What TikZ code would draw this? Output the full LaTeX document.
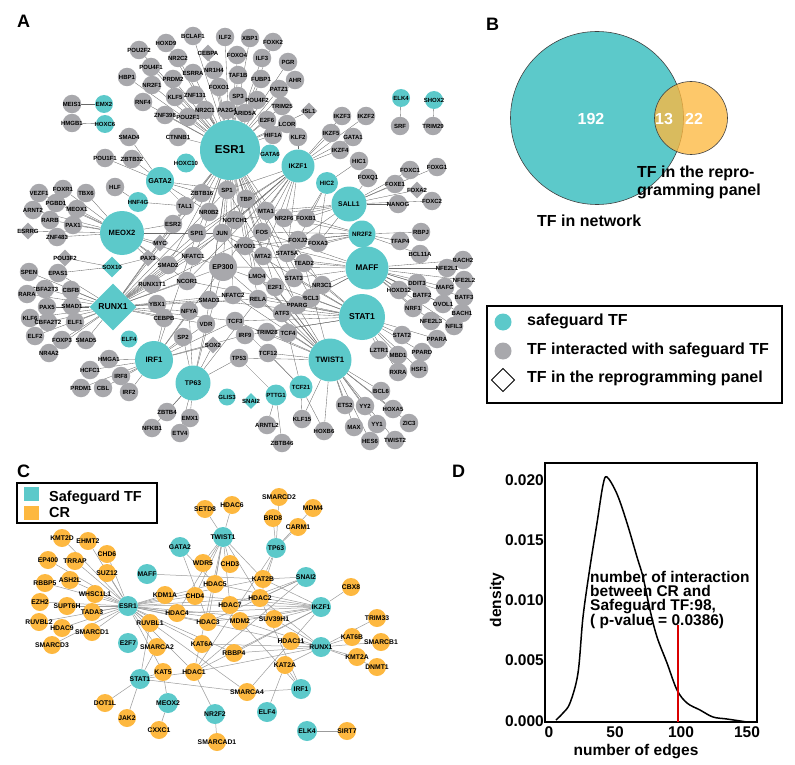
\documentclass[tikz,border=0pt]{standalone}
\usepackage{fontspec}
\setmainfont{Liberation Sans}
\usetikzlibrary{shapes.geometric}
\definecolor{tealc}{RGB}{92,201,202}
\definecolor{grayc}{RGB}{168,168,172}
\definecolor{orangec}{RGB}{253,184,64}
\definecolor{edgec}{RGB}{105,105,105}
\definecolor{cedgec}{RGB}{155,155,155}
\newcommand\fs[1]{\fontsize{#1}{#1}\selectfont\bfseries}
\pgfdeclarelayer{bg}\pgfsetlayers{bg,main}
\tikzset{
 gn/.style={circle,fill=grayc,minimum size=18.5pt,inner sep=0pt,font=\fs{6}},
 gd/.style={diamond,fill=grayc,minimum size=17pt,inner sep=0pt,font=\fs{6}},
 tn/.style={circle,fill=tealc,minimum size=18pt,inner sep=0pt,font=\fs{6}},
 td/.style={diamond,fill=tealc,minimum size=18pt,inner sep=0pt,font=\fs{6}},
 ed/.style={draw=edgec,line width=0.35pt},
 ce/.style={draw=cedgec,line width=0.5pt},
 cr/.style={circle,fill=orangec,minimum size=18pt,inner sep=0pt,font=\fs{6.8}},
 ct/.style={circle,fill=tealc,minimum size=20pt,inner sep=0pt,font=\fs{6.8}},
 lab/.style={inner sep=0pt,anchor=base west},
}
\newcommand\gnode[2]{\node[gn] (#1) at (#2) {\makebox[0pt]{#1}};}
\newcommand\gdia[2]{\node[gd] (#1) at (#2) {\makebox[0pt]{#1}};}
\newcommand\tnode[3][]{\node[tn,#1] (#2) at (#3) {\makebox[0pt]{#2}};}
\newcommand\crnode[2]{\node[cr] (c#1) at (#2) {\makebox[0pt]{#1}};}
\newcommand\ctnode[2]{\node[ct] (c#1) at (#2) {\makebox[0pt]{#1}};}
\begin{document}
\begin{tikzpicture}[x=1pt,y=-1pt]
\useasboundingbox (0,0) rectangle (795,765);
% ---------------- panel letters
\node[lab,font=\fs{18}] at (17,28) {A};
\node[lab,font=\fs{18}] at (486,31) {B};
\node[lab,font=\fs{18}] at (17,477) {C};
\node[lab,font=\fs{18}] at (452,477) {D};
% ================= PANEL A =================
\tnode[minimum size=60pt,font=\fs{11.5}]{ESR1}{230,150}
\tnode[minimum size=28pt,font=\fs{7.2}]{GATA2}{160,181}
\tnode[minimum size=44pt,font=\fs{7.6}]{MEOX2}{122,233}
\node[td,minimum size=47pt,font=\fs{8.6}] (RUNX1) at (113,307) {\makebox[0pt]{RUNX1}};
\tnode[minimum size=38pt,font=\fs{7.8}]{IRF1}{154,360}
\tnode[minimum size=35pt,font=\fs{6.8}]{TP63}{193,383}
\tnode[minimum size=43pt,font=\fs{7.8}]{TWIST1}{330,360}
\tnode[minimum size=46pt,font=\fs{8.6}]{STAT1}{362,317}
\tnode[minimum size=43pt,font=\fs{8.2}]{MAFF}{367,268}
\tnode[minimum size=27pt,font=\fs{6.3}]{NR2F2}{362,234}
\tnode[minimum size=35pt,font=\fs{6.8}]{SALL1}{349,204}
\tnode[minimum size=22pt,font=\fs{6.2}]{HIC2}{327,183}
\tnode[minimum size=33pt,font=\fs{6.7}]{IKZF1}{298,166}
\tnode[minimum size=19pt]{GATA6}{270,154}
\tnode[minimum size=20pt]{HNF4G}{138,202}
\tnode[minimum size=19pt]{HOXC10}{186,163}
\tnode[minimum size=23pt]{TCF21}{301,387}
\tnode[minimum size=21pt]{PTTG1}{276,395}
\tnode[minimum size=17pt]{GLIS3}{227,397}
\tnode[minimum size=17pt]{ELF4}{129,339}
\tnode{EMX2}{104,104}
\tnode{HOXC6}{105,124}
\tnode{ELK4}{401,98}
\tnode{SHOX2}{434,100}
\node[td,minimum size=16pt] (SNAI2) at (251,401) {\makebox[0pt]{SNAI2}};
\node[td,minimum size=21pt] (SOX10) at (112,267) {\makebox[0pt]{SOX10}};
\node[gn,minimum size=28pt,font=\fs{7}] (EP300) at (223,267) {\makebox[0pt]{EP300}};
\gnode{BCLAF1}{193,36}\gnode{ILF2}{225,37}\gnode{XBP1}{250,38}\gnode{FOXK2}{273,42}
\gnode{HOXD9}{166,43}\gnode{POU2F2}{139,50}\gdia{CEBPA}{208,53}\gnode{FOXO4}{237,55}
\gnode{NR2C2}{178,58}\gnode{ILF3}{262,58}\gnode{PGR}{288,62}\gnode{POU4F1}{151,67}
\gnode{NR1H4}{214,70}\gnode{ESRRA}{193,73}\gnode{TAF1B}{238,75}\gnode{HBP1}{127,77}
\gnode{PRDM2}{173,79}\gnode{FUBP1}{261,79}\gnode{AHR}{295,80}\gnode{NR2F1}{152,85}
\gnode{FOXO1}{219,87}\gnode{PATZ1}{279,89}\gnode{ZNF131}{195,95}\gnode{SP3}{238,96}
\gnode{KLF5}{175,97}\gnode{POU4F2}{257,100}\gnode{RNF4}{143,102}\gnode{TRIM25}{282,106}
\gnode{NR2C1}{205,110}\gnode{PA2G4}{227,110}\gdia{ISL1}{309,111}\gnode{ARID5A}{245,113}
\gnode{ZNF398}{165,115}\gnode{POU2F1}{188,117}\gnode{E2F6}{267,120}\gnode{LCOR}{287,124}
\gnode{HIF1A}{273,135}\gnode{KLF2}{298,137}\gnode{SMAD4}{129,137}\gnode{CTNNB1}{178,137}
\gnode{IKZF3}{342,116}\gnode{IKZF2}{366,116}\gnode{IKZF5}{331,133}\gnode{GATA1}{353,137}
\gnode{IKZF4}{340,150}\gnode{HIC1}{359,161}
\gnode{MEIS1}{72,104}\gnode{HMGB1}{72,123}\gnode{SRF}{400,126}\gnode{TRIM29}{433,126}
\gnode{FOXC1}{410,170}\gnode{FOXG1}{437,167}\gnode{FOXQ1}{368,178}\gnode{FOXE1}{395,184}
\gdia{FOXA2}{417,190}\gnode{NANOG}{398,204}\gnode{FOXC2}{432,201}
\gnode{RBPJ}{421,232}\gnode{TFAP4}{400,241}\gnode{BCL11A}{420,254}
\gnode{BACH2}{463,260}\gnode{NFE2L1}{447,268}\gnode{NFE2L2}{464,280}\gnode{DDIT3}{417,283}
\gnode{MAFG}{445,287}\gnode{HOXD12}{399,290}\gnode{BATF2}{422,295}\gnode{BATF3}{464,297}
\gnode{OVOL1}{443,304}\gnode{NRF1}{413,308}\gnode{BACH1}{462,313}\gnode{NFE2L3}{431,321}
\gnode{NFIL3}{454,326}
\gnode{STAT2}{402,335}\gnode{PPARA}{437,339}\gnode{LZTR1}{379,350}\gnode{PPARD}{422,352}
\gnode{MBD1}{398,355}\gnode{RXRA}{398,372}\gnode{HSF1}{419,369}
\gnode{BCL6}{381,391}\gnode{ETS2}{345,405}\gnode{YY2}{365,406}\gnode{HOXA5}{393,409}
\gnode{MAX}{354,427}\gnode{YY1}{377,424}\gnode{ZIC3}{409,423}\gnode{HES6}{370,441}
\gnode{TWIST2}{395,440}
\gnode{KLF15}{302,419}\gnode{ARNTL2}{267,425}\gnode{HOXB6}{324,431}\gnode{ZBTB46}{282,443}
\gnode{ZBTB4}{167,412}\gnode{EMX1}{190,418}\gnode{NFKB1}{152,428}\gnode{ETV4}{180,433}
\gnode{HMGA1}{109,359}\gnode{HCFC1}{90,370}\gnode{IRF8}{121,376}\gnode{PRDM1}{81,388}
\gnode{CBL}{103,388}\gnode{IRF2}{129,392}
\gnode{SPEN}{29,272}\gnode{EPAS1}{58,273}\gnode{CBFA2T3}{45,289}\gnode{CBFB}{71,290}
\gnode{RARA}{27,294}\gnode{PAX5}{47,307}\gnode{SMAD1}{72,306}\gnode{KLF6}{30,318}
\gnode{CBFA2T2}{48,322}\gnode{ELF1}{75,322}\gnode{ELF2}{35,336}\gnode{FOXP3}{62,340}
\gnode{SMAD5}{86,340}\gnode{NR4A2}{49,353}
\gnode{VEZF1}{39,193}\gnode{FOXR1}{63,189}\gnode{TBX6}{86,193}\gnode{PGBD1}{56,203}
\gnode{MEOX1}{77,209}\gnode{ARNT2}{33,210}\gnode{RARB}{50,220}\gnode{PAX1}{73,225}
\gdia{ESRRG}{28,231}\gnode{ZNF483}{57,237}\gdia{POU3F2}{65,258}
\gnode{POU1F1}{105,158}\gnode{ZBTB32}{132,159}\gnode{HLF}{115,187}
\gnode{SP1}{227,190}\gnode{TBP}{246,199}\gnode{ZBTB16}{202,193}\gnode{TAL1}{185,206}
\gnode{NR0B2}{209,212}\gnode{MTA1}{266,211}\gnode{NOTCH1}{235,220}\gnode{NR2F6}{284,218}
\gnode{FOXB1}{306,218}\gnode{ESR2}{173,224}\gnode{SPI1}{197,233}\gnode{JUN}{222,233}
\gnode{FOS}{262,232}\gnode{FOXJ2}{298,240}\gnode{FOXA3}{318,243}\gnode{MYOD1}{245,246}
\gdia{MYC}{160,243}\gnode{NFATC1}{193,256}\gnode{MTA2}{263,256}\gnode{STAT5A}{287,253}
\gdia{PAX3}{148,258}\gnode{SMAD2}{168,265}\gnode{TEAD2}{304,263}\gnode{LMO4}{257,276}
\gnode{STAT3}{294,278}\gnode{RUNX1T1}{152,284}\gnode{NCOR1}{187,281}\gnode{NR3C1}{322,285}
\gnode{E2F1}{275,287}\gnode{NFATC2}{233,295}\gnode{SMAD3}{209,300}\gnode{RELA}{258,299}
\gnode{BCL3}{311,298}\gnode{YBX1}{157,304}\gnode{NFYA}{189,311}\gnode{PPARG}{297,305}
\gnode{ATF3}{282,313}\gnode{CEBPB}{164,318}\gnode{VDR}{206,324}\gnode{TCF3}{235,321}
\gnode{TRIM28}{267,332}\gnode{TCF4}{288,333}\gnode{IRF9}{245,335}\gnode{SP2}{183,337}
\gdia{SOX2}{213,345}\gnode{TCF12}{268,353}\gnode{TP53}{239,358}
\begin{pgfonlayer}{bg}
\foreach \n in {BCLAF1,ILF2,XBP1,FOXK2,HOXD9,POU2F2,CEBPA,FOXO4,NR2C2,ILF3,PGR,POU4F1,NR1H4,ESRRA,TAF1B,HBP1,PRDM2,FUBP1,AHR,NR2F1,FOXO1,PATZ1,ZNF131,SP3,KLF5,POU4F2,RNF4,TRIM25,NR2C1,PA2G4,ISL1,ARID5A,ZNF398,POU2F1,E2F6,LCOR,HIF1A,CTNNB1,SP1,TBP,ZBTB16,NR0B2,MTA1,NOTCH1,ESR2,JUN,FOS,MYOD1,MTA2,EP300,LMO4,STAT3,NCOR1,NR3C1,E2F1,NFATC2,SMAD3,RELA,BCL3,PPARG,VDR,MYC,SPI1,SMAD2,TAL1}
  \draw[ed] (ESR1) -- (\n);
\foreach \n in {IKZF3,IKZF2,IKZF5,GATA1,IKZF4,KLF2,SP1,NOTCH1,MTA1,MTA2,SPI1,NFATC1,NCOR1,EP300,STAT5A,JUN,TBP,FOS,NR2F6}
  \draw[ed] (IKZF1) -- (\n);
\foreach \n in {HIC1,FOXB1,FOXA3,FOXJ2}
  \draw[ed] (HIC2) -- (\n);
\foreach \n in {FOXC1,FOXG1,FOXE1,FOXA2,NANOG,FOXC2,FOXQ1,FOXB1,NR2F6,FOXA3,FOXJ2,MTA1,NOTCH1}
  \draw[ed] (SALL1) -- (\n);
\foreach \n in {RBPJ,TFAP4,BCL11A,FOXA3,FOXJ2,NR2F6,STAT5A,MYOD1,FOS,FOXB1}
  \draw[ed] (NR2F2) -- (\n);
\foreach \n in {BACH2,NFE2L1,NFE2L2,DDIT3,MAFG,HOXD12,BATF2,BATF3,OVOL1,NRF1,BACH1,NFE2L3,NFIL3,TEAD2,STAT3,NR3C1,BCL3,ATF3,JUN,FOS,EP300,MTA2}
  \draw[ed] (MAFF) -- (\n);
\foreach \n in {STAT2,PPARA,LZTR1,PPARD,MBD1,RXRA,HSF1,NR3C1,BCL3,PPARG,STAT3,STAT5A,ATF3,IRF9,TRIM28,EP300,JUN,RELA,NCOR1,SMAD3,TCF3}
  \draw[ed] (STAT1) -- (\n);
\foreach \n in {BCL6,ETS2,YY2,HOXA5,MAX,YY1,ZIC3,HES6,TWIST2,TCF4,TCF12,TCF3,TP53,TRIM28,ATF3,E2F1,RELA,MYOD1,EP300,LMO4,TEAD2,SP1,JUN,NFATC2,HOXB6,KLF15}
  \draw[ed] (TWIST1) -- (\n);
\foreach \n in {KLF15,HOXB6,TCF4,TCF12,TCF3}
  \draw[ed] (TCF21) -- (\n);
\foreach \n in {TP53,ARNTL2,ZBTB46}
  \draw[ed] (PTTG1) -- (\n);
\foreach \n in {ZBTB4,EMX1,NFKB1,ETV4,TP53,SOX2,SP2,NFYA,EP300,VDR,RELA}
  \draw[ed] (TP63) -- (\n);
\foreach \n in {HMGA1,HCFC1,IRF8,PRDM1,CBL,IRF2,SP2,CEBPB,NFYA,IRF9,SOX2,EP300,VDR,TCF3,SPI1}
  \draw[ed] (IRF1) -- (\n);
\foreach \n in {SPEN,EPAS1,CBFA2T3,CBFB,RARA,PAX5,SMAD1,KLF6,CBFA2T2,ELF1,ELF2,FOXP3,SMAD5,NR4A2,RUNX1T1,YBX1,NCOR1,SMAD2,SMAD3,CEBPB,EP300,NFATC1,NFATC2,SPI1,JUN,TAL1,NFYA,VDR,SP1,ZBTB16,TBP,NOTCH1,FOS,RELA,TCF3,MYC}
  \draw[ed] (RUNX1) -- (\n);
\foreach \n in {VEZF1,FOXR1,TBX6,PGBD1,MEOX1,ARNT2,RARB,PAX1,ESRRG,ZNF483,PAX3,MYC,ESR2,SMAD2,EP300,JUN,NCOR1}
  \draw[ed] (MEOX2) -- (\n);
\foreach \n in {SMAD4,POU1F1,ZBTB32,ZBTB16,TAL1,NR0B2,SP1}
  \draw[ed] (GATA2) -- (\n);
\foreach \n in {HLF,TAL1}
  \draw[ed] (HNF4G) -- (\n);
\foreach \n in {POU3F2,PAX3,EPAS1}
  \draw[ed] (SOX10) -- (\n);
\draw[ed] (MEIS1) -- (EMX2);
\draw[ed] (HMGB1) -- (HOXC6);
\draw[ed] (ELK4) -- (SRF);
\draw[ed] (SHOX2) -- (TRIM29);
\end{pgfonlayer}
% ================= PANEL B =================
\fill[tealc] (597,118) circle (86.5pt);
\draw[black!75,line width=0.6pt] (597,118) circle (86.5pt);
\fill[orangec,fill opacity=0.78] (691,118) circle (36.5pt);
\draw[black!75,line width=0.6pt] (691,118) circle (36.5pt);
\node[font=\fs{16},text=white,inner sep=0pt] at (591,119) {192};
\node[font=\fs{16},text=white,inner sep=0pt] at (664,119) {13};
\node[font=\fs{16},text=white,inner sep=0pt] at (694,119) {22};
\node[lab,font=\fs{16}] at (637,177) {TF in the repro-};
\node[lab,font=\fs{16}] at (637,195) {gramming panel};
\node[lab,font=\fs{16}] at (537,226) {TF in network};
\draw[line width=1.3pt] (487,306) rectangle (782,403);
\fill[tealc] (503,322) circle (8.5pt);
\fill[grayc] (503,351) circle (8.5pt);
\draw[line width=0.9pt] (491.5,380) -- (503,368.5) -- (514.5,380) -- (503,391.5) -- cycle;
\node[lab,font=\fs{16}] at (527,325.5) {safeguard TF};
\node[lab,font=\fs{16}] at (527,354) {TF interacted with safeguard TF};
\node[lab,font=\fs{16}] at (527,382) {TF in the reprogramming panel};
% ================= PANEL C =================
\draw[line width=1.3pt] (17,483) rectangle (157,523);
\fill[tealc] (23.5,487) rectangle (38.5,501);
\fill[orangec] (23.5,506) rectangle (38.5,520);
\node[lab,font=\fs{14.5}] at (49,501) {Safeguard TF};
\node[lab,font=\fs{14.5}] at (49,517.5) {CR};
\crnode{SETD8}{205,509}\crnode{HDAC6}{232,505}\crnode{KMT2D}{62,538}\crnode{EHMT2}{88,541}
\crnode{CHD6}{107,554}\crnode{EP400}{48,560}\crnode{TRRAP}{75,561}\crnode{WDR5}{203,563}
\crnode{CHD3}{230,564}\crnode{SUZ12}{107,573}\crnode{RBBP5}{45,583}\crnode{ASH2L}{70,580}
\crnode{HDAC5}{215,584}\crnode{WHSC1L1}{95,594}\crnode{KDM1A}{165,595}\crnode{CHD4}{195,596}
\crnode{HDAC7}{230,605}\crnode{EZH2}{40,602}\crnode{SUPT6H}{67,606}\crnode{TADA3}{92,612}
\crnode{HDAC4}{177,613}\crnode{RUVBL2}{39,622}\crnode{RUVBL1}{150,623}\crnode{HDAC3}{208,622}
\crnode{MDM2}{240,621}\crnode{HDAC9}{62,628}\crnode{SMARCD1}{92,632}\crnode{SMARCD3}{52,645}
\crnode{SMARCA2}{157,647}\crnode{KAT6A}{202,644}\crnode{RBBP4}{234,653}\crnode{KAT5}{163,672}
\crnode{HDAC1}{194,672}\crnode{SMARCA4}{247,692}\crnode{DOT1L}{105,703}\crnode{JAK2}{127,718}
\crnode{CXXC1}{159,730}\crnode{SMARCAD1}{217,742}\crnode{SMARCD2}{279,497}\crnode{MDM4}{313,508}
\crnode{BRD8}{273,518}\crnode{CARM1}{298,527}\crnode{KAT2B}{263,579}\crnode{CBX8}{351,587}
\crnode{HDAC2}{260,598}\crnode{SUV39H1}{274,619}\crnode{TRIM33}{377,618}\crnode{KAT6B}{352,637}
\crnode{HDAC11}{291,641}\crnode{SMARCB1}{381,642}\crnode{KMT2A}{357,657}\crnode{DNMT1}{377,667}
\crnode{KAT2A}{285,665}\crnode{SIRT7}{347,731}
\ctnode{TWIST1}{223,537}\ctnode{GATA2}{180,547}\ctnode{MAFF}{147,574}\ctnode{ESR1}{128,606}
\ctnode{E2F7}{128,643}\ctnode{STAT1}{140,679}\ctnode{MEOX2}{168,703}\ctnode{NR2F2}{215,714}
\ctnode{TP63}{276,548}\ctnode{SNAI2}{306,577}\ctnode{IKZF1}{321,607}\ctnode{RUNX1}{321,647}
\ctnode{IRF1}{301,689}\ctnode{ELF4}{267,712}\ctnode{ELK4}{307,731}
\begin{pgfonlayer}{bg}
\foreach \n in {KMT2D,EHMT2,CHD6,EP400,TRRAP,SUZ12,RBBP5,ASH2L,WHSC1L1,EZH2,SUPT6H,TADA3,RUVBL2,HDAC9,SMARCD1,SMARCD3,KDM1A,CHD4,HDAC4,RUVBL1,HDAC3,HDAC7,MDM2,HDAC2,HDAC5,KAT2B,SMARCA2,KAT5,RBBP4,HDAC1,SUV39H1,KAT6A,SMARCA4,HDAC11}
  \draw[ce] (cESR1) -- (c\n);
\foreach \n in {SETD8,HDAC6,WDR5,CHD3,HDAC5,HDAC7,HDAC3,HDAC4,CHD4,HDAC1,KAT2B,HDAC2}
  \draw[ce] (cTWIST1) -- (c\n);
\foreach \n in {HDAC3,HDAC5}
  \draw[ce] (cGATA2) -- (c\n);
\draw[ce] (cMAFF) -- (cKAT2B);
\foreach \n in {SMARCD2,BRD8,CARM1,MDM4,KAT2B,HDAC2,HDAC1}
  \draw[ce] (cTP63) -- (c\n);
\foreach \n in {KAT2B,HDAC2,HDAC1,HDAC3,HDAC7}
  \draw[ce] (cSNAI2) -- (c\n);
\foreach \n in {CBX8,KAT2B,HDAC2,HDAC7,MDM2,SUV39H1,HDAC5,CHD4,HDAC1,HDAC3,RBBP4,SMARCA4,HDAC4}
  \draw[ce] (cIKZF1) -- (c\n);
\foreach \n in {KAT6B,TRIM33,SMARCB1,KMT2A,DNMT1,KAT2A,SUV39H1,HDAC1,RBBP4,MDM2,HDAC2,HDAC11,KAT6A}
  \draw[ce] (cRUNX1) -- (c\n);
\foreach \n in {KAT2A,SMARCA4,HDAC2,MDM2}
  \draw[ce] (cIRF1) -- (c\n);
\foreach \n in {KAT5,HDAC1,DOT1L,JAK2,SMARCA4,SMARCA2,RUVBL1}
  \draw[ce] (cSTAT1) -- (c\n);
\foreach \n in {KAT5,CXXC1}
  \draw[ce] (cMEOX2) -- (c\n);
\foreach \n in {HDAC1,SMARCAD1}
  \draw[ce] (cNR2F2) -- (c\n);
\draw[ce] (cELF4) -- (cKAT2A);
\draw[ce] (cELK4) -- (cSIRT7);
\end{pgfonlayer}
% ================= PANEL D =================
\draw[line width=1.5pt] (545,463) rectangle (757,722);
\draw[line width=1.5pt,line join=round] plot[smooth,tension=0.55] coordinates {(556,720)(563,713)(570,703)(578,673)(583,617)(590,567)(597,523)(603,485)(607,477)(617,494)(627,523)(637,557)(643,577)(650,610)(657,637)(667,663)(677,690)(687,703)(700,710)(713,717)(727,719)(747,722)};
\draw[red!85!black,line width=1.6pt] (678,722) -- (678,625);
\foreach \v/\y in {0.000/721,0.005/660,0.010/600,0.015/540,0.020/480}
  \node[font=\fs{15.5},anchor=east,inner sep=0pt] at (544,\y) {\v};
\foreach \v/\x in {0/549,50/615,100/681,150/747}
  \node[font=\fs{15.5},anchor=north,inner sep=0pt] at (\x,726) {\v};
\node[font=\fs{15.5},anchor=base,inner sep=0pt] at (636,755) {number of edges};
\node[font=\fs{15.5},rotate=90,inner sep=0pt] at (497,600) {density};
\node[lab,font=\fs{15.5}] at (590,582) {number of interaction};
\node[lab,font=\fs{15.5}] at (590,596) {between CR and};
\node[lab,font=\fs{15.5}] at (590,610) {Safeguard TF:98,};
\node[lab,font=\fs{15.5}] at (590,625) {( p-value = 0.0386)};
\end{tikzpicture}
\end{document}
